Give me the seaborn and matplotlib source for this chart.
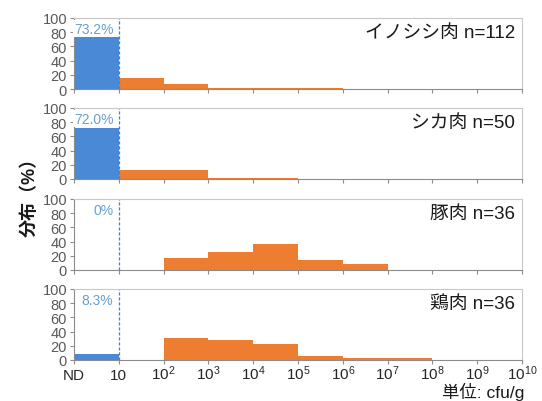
import numpy as np
import pandas as pd
import matplotlib
matplotlib.use("Agg")
import matplotlib.pyplot as plt
import seaborn as sns

# ---- data -------------------------------------------------------------
bin_labels = ["ND", "10", "$10^{2}$", "$10^{3}$", "$10^{4}$", "$10^{5}$",
              "$10^{6}$", "$10^{7}$", "$10^{8}$", "$10^{9}$", "$10^{10}$"]
panel_titles = ["イノシシ肉 n=112", "シカ肉 n=50", "豚肉 n=36", "鶏肉 n=36"]
nd_labels = ["73.2%", "72.0%", "0%", "8.3%"]

inoshishi = [73.2, 16.1, 7.1, 1.8, 0.9, 0.9, 0.0, 0.0, 0.0, 0.0]
shika = [72.0, 12.0, 12.0, 2.0, 2.0, 0.0, 0.0, 0.0, 0.0, 0.0]
buta = [0.0, 0.0, 16.7, 25.0, 36.1, 13.9, 8.3, 0.0, 0.0, 0.0]
tori = [8.3, 0.0, 30.6, 27.8, 22.2, 5.6, 2.8, 2.8, 0.0, 0.0]
series = [inoshishi, shika, buta, tori]

# ---- style ------------------------------------------------------------
sns.set_style("white")
plt.rcParams["font.family"] = ["Liberation Sans", "Noto Sans CJK JP", "DejaVu Sans"]
plt.rcParams["mathtext.fontset"] = "custom"
plt.rcParams["mathtext.rm"] = "Liberation Sans"
plt.rcParams["mathtext.it"] = "Liberation Sans:italic"

BLUE = "#4a89d6"
ORANGE = "#ed7d31"
LBLUE_TXT = "#6a9fd3"
DASH = "#4f7fbf"
GRAY_TXT = "#595959"

fig = plt.figure(figsize=(5.42, 4.02), dpi=100)
left, width, height = 74 / 542, 448 / 542, 71 / 402
tops = [19, 109, 200, 290]

centers = np.arange(10) + 0.5

for i, (vals, title, ndl) in enumerate(zip(series, panel_titles, nd_labels)):
    bottom = (402 - tops[i] - 71) / 402
    ax = fig.add_axes([left, bottom, width, height])
    df = pd.DataFrame({"x": centers, "pct": vals,
                       "grp": ["nd"] + ["pos"] * 9})
    sns.histplot(data=df[df.grp == "nd"], x="x", weights="pct",
                 binwidth=1, binrange=(0, 10),
                 color=BLUE, alpha=1, linewidth=0, ax=ax)
    sns.histplot(data=df[df.grp == "pos"], x="x", weights="pct",
                 binwidth=1, binrange=(0, 10),
                 color=ORANGE, alpha=1, linewidth=0, ax=ax)
    ax.set_xlim(0, 10)
    ax.set_ylim(0, 100)
    ax.set_xlabel("")
    ax.set_ylabel("")
    ax.set_yticks(np.arange(0, 101, 20))
    ax.set_xticks(np.arange(0, 11))
    ax.tick_params(axis="y", labelsize=10.5, labelcolor=GRAY_TXT, length=3,
                   color="#8c8c8c", width=0.8, pad=2, left=True)
    ax.tick_params(axis="x", length=3, color="#8c8c8c", width=0.8,
                   bottom=True, labelsize=11, pad=11)
    if i == 3:
        ax.set_xticklabels(bin_labels)
        for lbl in ax.get_xticklabels():
            lbl.set_va("baseline")
    else:
        ax.set_xticklabels([])
    for s in ["top", "right"]:
        ax.spines[s].set_color("#c8c8c8")
        ax.spines[s].set_linewidth(0.8)
    for s in ["left", "bottom"]:
        ax.spines[s].set_color("#8c8c8c")
        ax.spines[s].set_linewidth(0.8)
    ax.axvline(1, ymin=0, ymax=1, color=DASH, lw=0.9, ls=(0, (2.5, 1.5)))
    ax.text(0.88, 85, ndl, ha="right", va="center", fontsize=10,
            color=LBLUE_TXT,
            bbox=dict(facecolor="white", edgecolor="none", pad=1.0))
    ax.text(0.985, 0.79, title, transform=ax.transAxes, ha="right",
            va="center", fontsize=13.5, color="#1a1a1a")

fig.text(0.055, 0.52, "分布（%）", rotation=90, ha="center", va="center",
         fontsize=13, fontweight="bold", color="#1a1a1a")
fig.text(0.968, 0.003, "単位: cfu/g", ha="right", va="bottom", fontsize=12.5,
         color="#1a1a1a")

fig.savefig("out.png", dpi=100)
